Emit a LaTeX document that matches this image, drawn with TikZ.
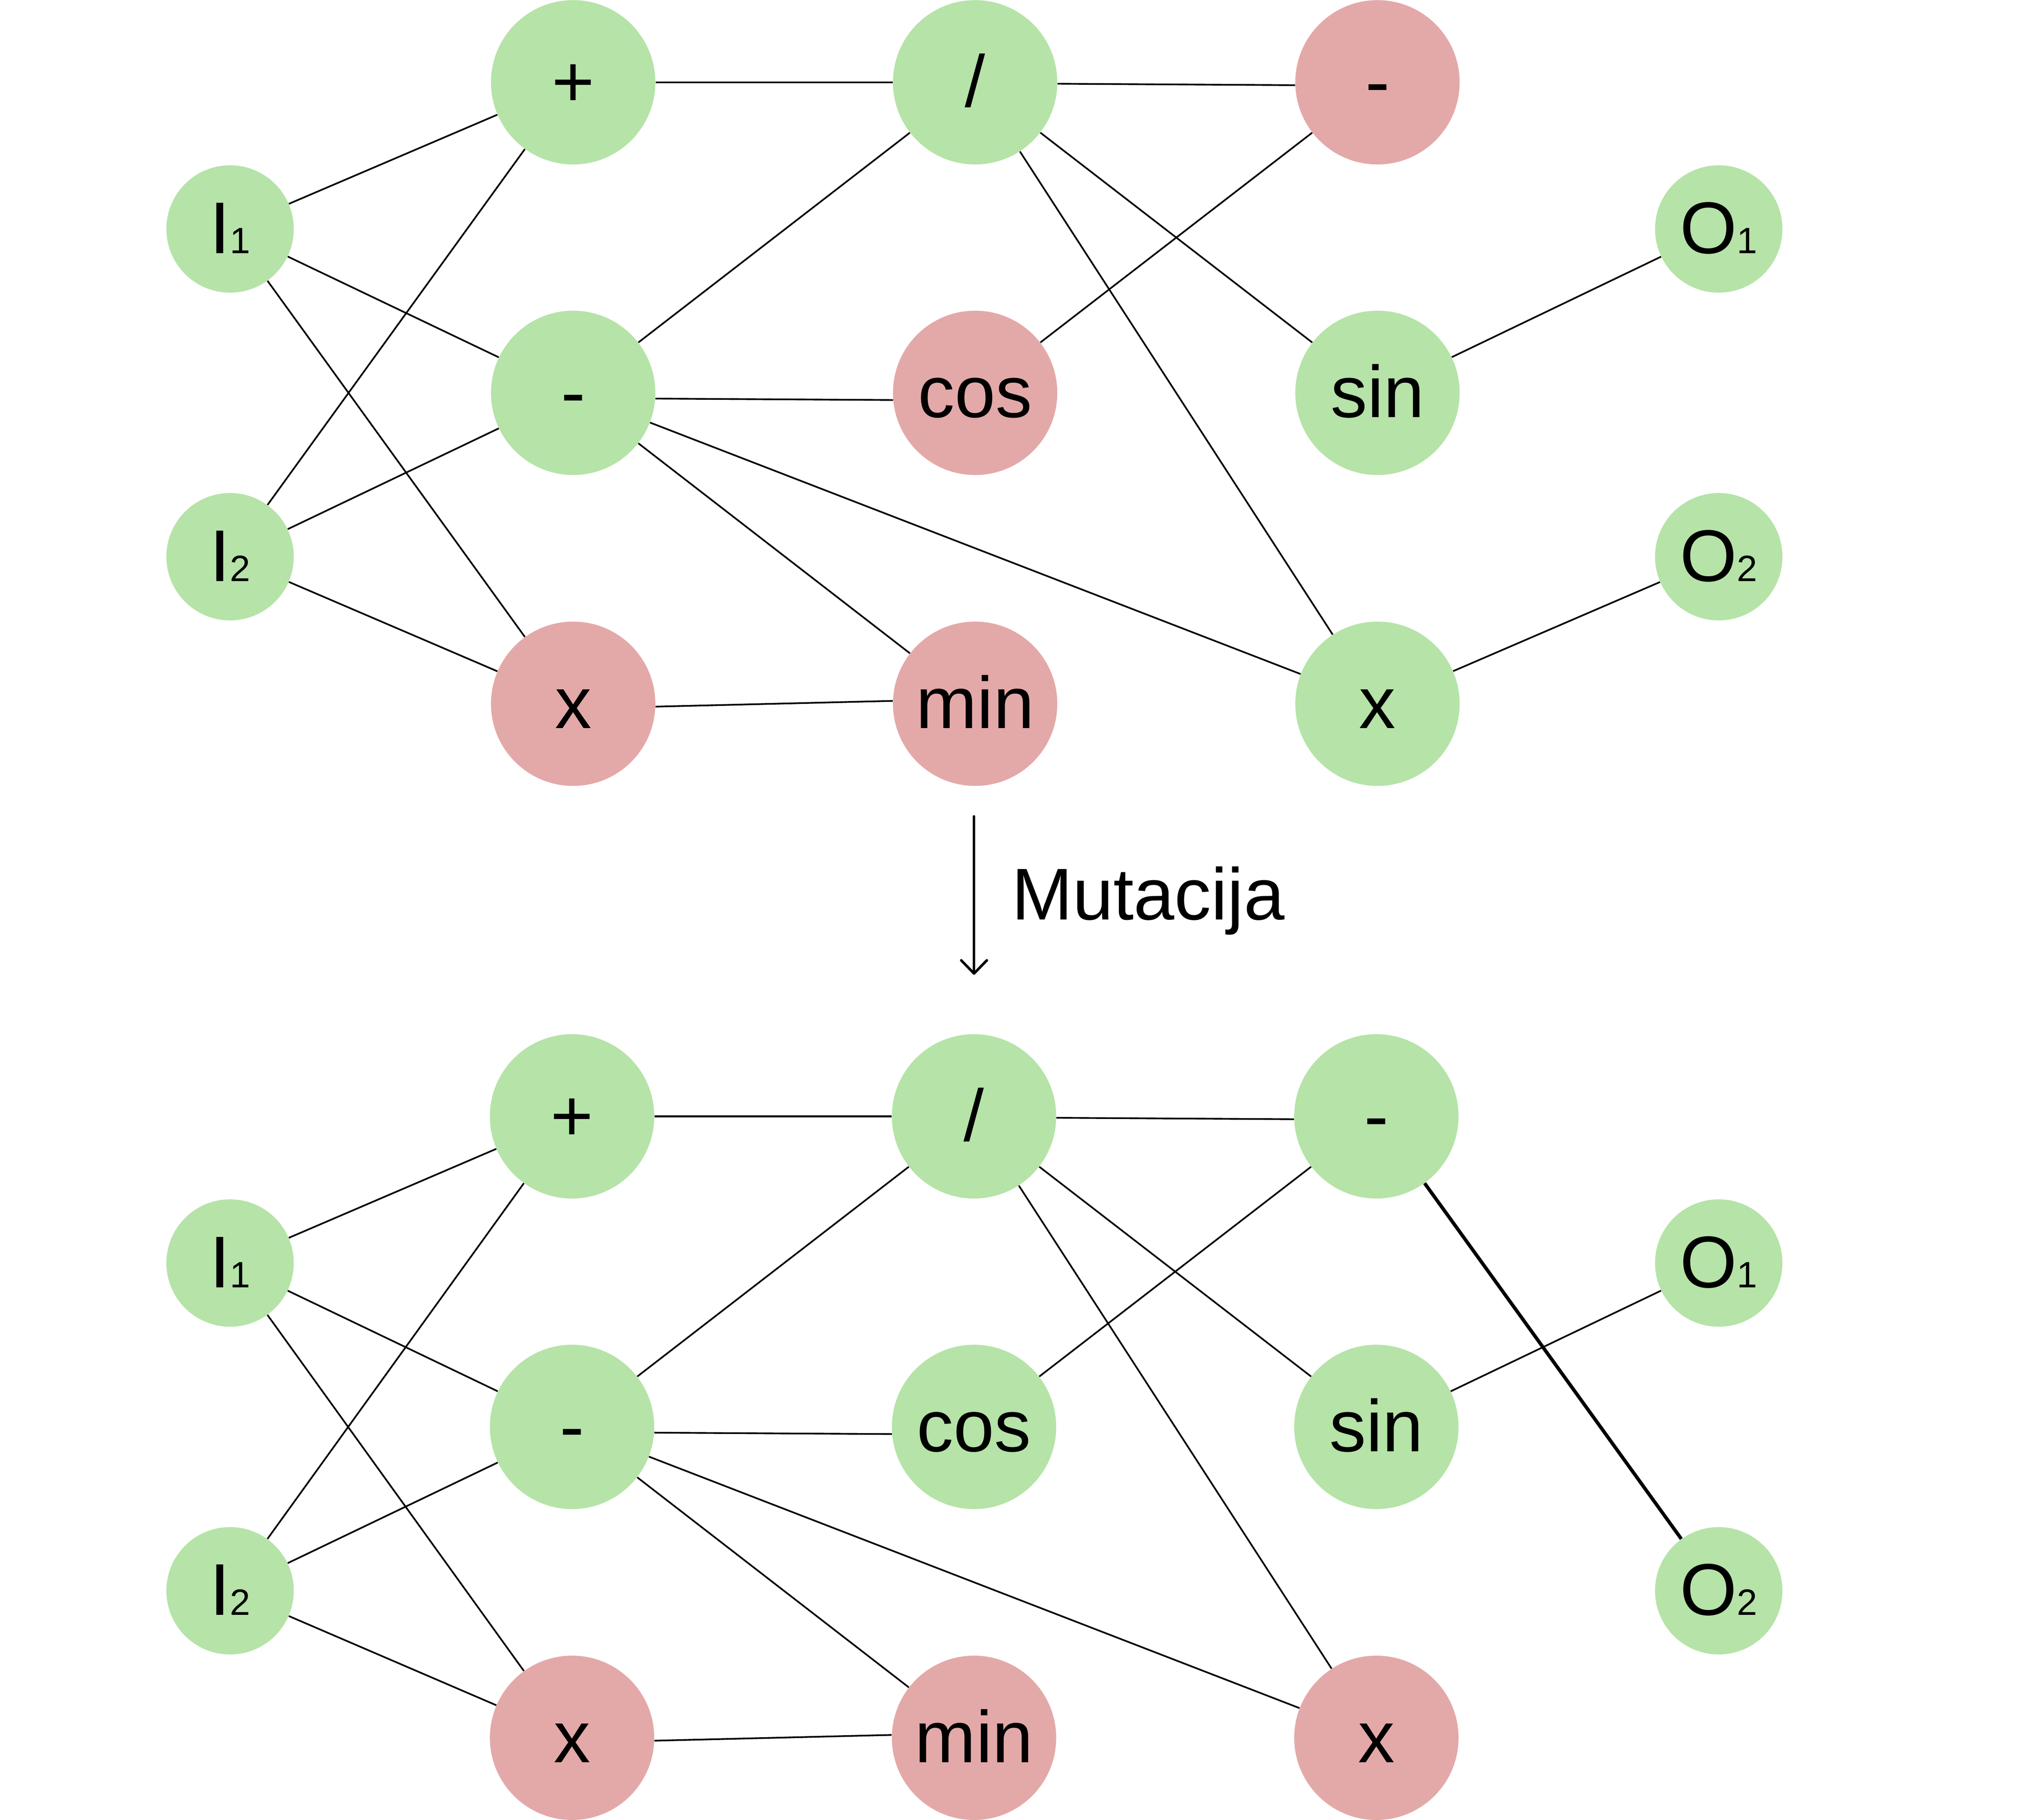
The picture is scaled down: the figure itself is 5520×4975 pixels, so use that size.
\documentclass[tikz,border=0pt]{standalone}
\usepackage{fontspec}
\setmainfont{Liberation Sans}
\usetikzlibrary{arrows.meta}
\definecolor{gn}{HTML}{B6E3A8}
\definecolor{rd}{HTML}{E3A9A8}
\newcommand\subd[1]{{\fontsize{28.5pt}{30pt}\selectfont #1}}
\begin{document}
\begin{tikzpicture}[x=0.01cm,y=-0.01cm,
  big/.style={circle, minimum size=4.49cm, inner sep=0pt, draw=none,
    font=\fontsize{57pt}{68pt}\selectfont, text height=38pt, text depth=0pt},
  small/.style={big, minimum size=3.48cm},
  gnode/.style={fill=gn}, rnode/.style={fill=rd},
  conn/.style={line width=1.3pt},
  heavy/.style={line width=2.7pt}]
\useasboundingbox (0,0) rectangle (5520,4975);

% ---------- top graph ----------
\node[small,gnode] (tI1) at (629,626) {I\subd{1}};
\node[small,gnode] (tI2) at (629,1522) {I\subd{2}};
\node[big,gnode] (tA) at (1567,225) {+};
\node[big,gnode] (tB) at (1567,1074) {-};
\node[big,rnode] (tC) at (1567,1924) {x};
\node[big,gnode] (tD) at (2666,225) {/};
\node[big,rnode] (tE) at (2666,1074) {cos};
\node[big,rnode] (tF) at (2666,1924) {min};
\node[big,rnode] (tG) at (3766,225) {-};
\node[big,gnode] (tH) at (3766,1074) {sin};
\node[big,gnode] (tK) at (3766,1924) {x};
\node[small,gnode] (tO1) at (4699,626) {O\subd{1}};
\node[small,gnode] (tO2) at (4699,1522) {O\subd{2}};

\draw[conn] (tI1) -- (tA);
\draw[conn] (tI1) -- (tB);
\draw[conn] (tI1) -- (tC);
\draw[conn] (tI2) -- (tA);
\draw[conn] (tI2) -- (tB);
\draw[conn] (tI2) -- (tC);
\draw[conn] (tA) -- (tD);
\draw[conn] (tB) -- (tD);
\draw[conn] (tB.-4) -- (tE.185);
\draw[conn] (tB) -- (tF);
\draw[conn] (tB) -- (tK);
\draw[conn] (tC.-2) -- (tF.178);
\draw[conn] (tD.-1.3) -- (tG.182);
\draw[conn] (tD) -- (tH);
\draw[conn] (tD) -- (tK);
\draw[conn] (tE) -- (tG);
\draw[conn] (tH) -- (tO1);
\draw[conn] (tK) -- (tO2);

% ---------- arrow ----------
\coordinate (arrS) at (2663,2232);
\coordinate (arrE) at (2663,2665);
\draw[line width=2pt, line cap=round,
  -{Straight Barb[length=0.36cm, width=0.70cm, line cap=round, line join=round]}] (arrS) -- (arrE);
\node[font=\fontsize{57pt}{68pt}\selectfont, inner sep=0pt, anchor=base west] (mut) at (2765,2514) {Mutacija};

% ---------- bottom graph ----------
\node[small,gnode] (bI1) at (629,3453) {I\subd{1}};
\node[small,gnode] (bI2) at (629,4349) {I\subd{2}};
\node[big,gnode] (bA) at (1564,3052) {+};
\node[big,gnode] (bB) at (1564,3901) {-};
\node[big,rnode] (bC) at (1564,4751) {x};
\node[big,gnode] (bD) at (2663,3052) {/};
\node[big,gnode] (bE) at (2663,3901) {cos};
\node[big,rnode] (bF) at (2663,4751) {min};
\node[big,gnode] (bG) at (3763,3052) {-};
\node[big,gnode] (bH) at (3763,3901) {sin};
\node[big,rnode] (bK) at (3763,4751) {x};
\node[small,gnode] (bO1) at (4699,3453) {O\subd{1}};
\node[small,gnode] (bO2) at (4699,4349) {O\subd{2}};

\draw[conn] (bI1) -- (bA);
\draw[conn] (bI1) -- (bB);
\draw[conn] (bI1) -- (bC);
\draw[conn] (bI2) -- (bA);
\draw[conn] (bI2) -- (bB);
\draw[conn] (bI2) -- (bC);
\draw[conn] (bA) -- (bD);
\draw[conn] (bB) -- (bD);
\draw[conn] (bB.-4) -- (bE.185);
\draw[conn] (bB) -- (bF);
\draw[conn] (bB) -- (bK);
\draw[conn] (bC.-2) -- (bF.178);
\draw[conn] (bD.-1.3) -- (bG.182);
\draw[conn] (bD) -- (bH);
\draw[conn] (bD) -- (bK);
\draw[conn] (bE) -- (bG);
\draw[conn] (bH) -- (bO1);
\draw[heavy] (bG) -- (bO2);
\end{tikzpicture}
\end{document}
